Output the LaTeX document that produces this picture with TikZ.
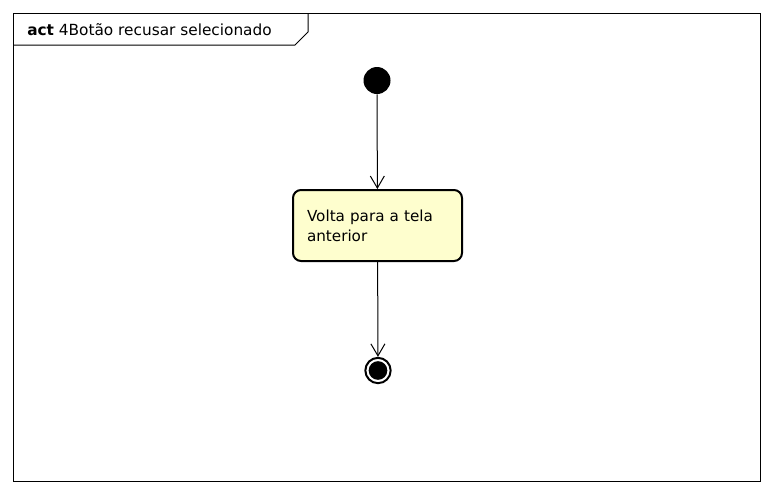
\documentclass[tikz,border=0pt]{standalone}
\usepackage{fontspec}
\setmainfont{DejaVu Sans}
\usepackage{xcolor}
\definecolor{mainDark}{HTML}{000000}
\definecolor{actionColor}{HTML}{FEFECE}
\usepackage{tikz}
\usetikzlibrary{positioning,calc,arrows.meta}
\tikzset{
  actionBox/.style={
    rectangle,
    rounded corners=6pt,
    draw=mainDark,
    line width=1.5pt,
    fill=actionColor,
    minimum width=126.75pt,
    minimum height=53.25pt,
    inner xsep=0pt,
    text width=105.75pt,
    align=left,
    font=\fontsize{11.4pt}{15pt}\selectfont
 },
  startDot/.style={
    circle,
    fill=mainDark,
    minimum size=20.25pt,
    inner sep=0pt
 },
  endDot/.style={
    circle,
    draw=mainDark,
    line width=1.5pt,
    fill=white,
    minimum size=19pt,
    inner sep=0pt
 },
  arrowLine/.style={
    -{Straight Barb[length=9pt,width=10.5pt]},
    line width=0.75pt,
    color=mainDark
 }
}

\begin{document}
\begin{tikzpicture}[x=0.75pt,y=-0.75pt]

            \useasboundingbox (0,0) rectangle (773,494);

            % frame with tab
            \draw[line width=0.75pt] (13,13) rectangle (760,481);
            \draw[line width=0.75pt] (13,45) -- (295,45) -- (308,32) -- (308,13);
            \node[anchor=west, inner sep=0pt, font=\fontsize{11.5pt}{13pt}\selectfont] (title) at (27,30) {\textbf{act} 4Botão recusar selecionado};

            % start
            \node[startDot] (start) at (377,80.5) {};

            % action
            \node[actionBox] (volta) at (377.5,225.5) {Volta para a tela\\anterior};
            \draw[arrowLine] (start) -- (volta);

            % end
            \node[endDot] (stop) at (378,370.5) {};
            \node[startDot, minimum size=14pt] (stopDot) at (stop) {};
            \draw[arrowLine] (volta) -- (stop);

        \end{tikzpicture}
\end{document}
